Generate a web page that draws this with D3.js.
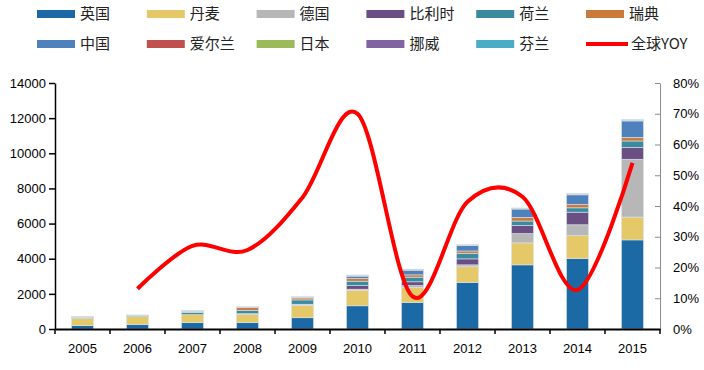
<!DOCTYPE html>
<html><head><meta charset="utf-8">
<script src="https://cdn.jsdelivr.net/npm/d3@7/dist/d3.min.js"></script>
<style>
body{margin:0;background:#fff;}
text{font-family:"Liberation Sans",Arial,sans-serif;}
</style></head>
<body><svg id="c" width="704" height="370"></svg>
<script>
const years = ["2005","2006","2007","2008","2009","2010","2011","2012","2013","2014","2015"];
const seriesNames = ["英国","丹麦","德国","比利时","荷兰","瑞典","中国","爱尔兰","日本","挪威","芬兰"];
const seriesColors = ["#1B6AA5","#E5C868","#B7B7B7","#6A4F85","#3A8BA0","#CA7B3C","#4F81BD","#C0504D","#9BBB59","#8064A2","#4BACC6"];
const UK = [190, 265, 360, 360, 640, 1320, 1510, 2650, 3650, 4010, 5070];
const DK = [415, 435, 455, 455, 700, 890, 850, 890, 1250, 1300, 1300];
const DE = [0, 0, 0, 55, 40, 55, 115, 110, 530, 620, 3290];
const BE = [0, 0, 0, 0, 30, 210, 210, 340, 470, 720, 680];
const NL = [30, 40, 130, 190, 245, 245, 265, 320, 245, 245, 360];
const SE = [20, 15, 30, 150, 110, 150, 130, 130, 210, 190, 210];
const CN = [0, 0, 15, 20, 30, 135, 265, 300, 470, 550, 930];
const IE = [25, 25, 25, 25, 25, 30, 20, 20, 25, 25, 30];
const JP = [5, 5, 5, 5, 5, 15, 15, 15, 15, 15, 15];
const NO = [0, 0, 5, 5, 5, 5, 5, 5, 5, 5, 5];
const FI = [15, 15, 15, 15, 15, 20, 20, 20, 20, 30, 20];
const globalYOY = [null, 0.131, 0.270, 0.257, 0.428, 0.700, 0.106, 0.414, 0.430, 0.127, 0.540];
const leftTicks = [0,2000,4000,6000,8000,10000,12000,14000];
const rightTicks = [0,0.1,0.2,0.3,0.4,0.5,0.6,0.7,0.8];
const seriesValues = [UK,DK,DE,BE,NL,SE,CN,IE,JP,NO,FI];

const svg = d3.select("#c");
const L = 55, R = 660, T = 83, B = 329;
const x = d3.scaleBand().domain(years).range([L, R]).paddingInner(0.6).paddingOuter(0.3);
const y = d3.scaleLinear().domain([0,14000]).range([B, T]);
const y2 = d3.scaleLinear().domain([0,0.8]).range([B, T]);

const table = years.map((yr,i)=>{const o={year:yr}; seriesNames.forEach((n,k)=>o[n]=seriesValues[k][i]); return o;});
const stack = d3.stack().keys(seriesNames)(table);

svg.append("g").selectAll("g").data(stack).join("g")
  .attr("fill",(d,i)=>seriesColors[i])
  .selectAll("rect").data(d=>d).join("rect")
  .attr("x",d=>x(d.data.year))
  .attr("width",x.bandwidth())
  .attr("y",d=>y(d[1]))
  .attr("height",d=>Math.max(0,y(d[0])-y(d[1])))
  .attr("stroke","#dde3ea").attr("stroke-width",0.6);

// left axis
const gl = svg.append("g").attr("transform",`translate(${L},0)`)
  .call(d3.axisLeft(y).tickValues(leftTicks).tickFormat(d3.format("d")).tickSize(6).tickPadding(3).tickSizeOuter(0));
gl.select(".domain").attr("stroke","#000").attr("stroke-width",1.5);
gl.selectAll(".tick line").attr("stroke","#000").attr("stroke-width",1.5);
gl.selectAll("text").attr("font-size",13).attr("fill","#000");

// right axis
const gr = svg.append("g").attr("transform",`translate(${R},0)`)
  .call(d3.axisRight(y2).tickValues(rightTicks).tickFormat(d3.format(".0%")).tickSizeInner(-5).tickSizeOuter(0).tickPadding(13));
gr.select(".domain").attr("stroke","#8c8c8c");
gr.selectAll(".tick line").attr("stroke","#8c8c8c");
gr.selectAll("text").attr("font-size",13).attr("fill","#000");

// bottom axis
const gb = svg.append("g").attr("transform",`translate(0,${B})`)
  .call(d3.axisBottom(x).tickSize(0).tickPadding(15));
gb.select(".domain").attr("stroke","#000").attr("stroke-width",2);
gb.selectAll("text").attr("font-size",13).attr("fill","#000");
const bounds = d3.range(years.length+1).map(i=>L + i*x.step());
gb.selectAll(".bt").data(bounds).join("line").attr("class","bt")
  .attr("x1",d=>d).attr("x2",d=>d).attr("y1",0).attr("y2",5)
  .attr("stroke","#000").attr("stroke-width",1.5);

// line
const line = d3.line().defined(d=>d.v!=null)
  .x(d=>x(d.year)+x.bandwidth()/2).y(d=>y2(d.v))
  .curve(d3.curveCardinal.tension(0));
svg.append("path").datum(years.map((yr,i)=>({year:yr,v:globalYOY[i]})).filter(d=>d.v!=null))
  .attr("d",line).attr("fill","none").attr("stroke","#ff0000").attr("stroke-width",4);

// legend
const legendItems = seriesNames.map((n,i)=>({name:n,color:seriesColors[i],type:"bar"}))
  .concat([{name:"全球YOY",color:"#ff0000",type:"line"}]);
const lg = svg.append("g").selectAll("g").data(legendItems).join("g")
  .attr("transform",(d,i)=>`translate(${37 + (i%6)*109.8},${i<6?14:44})`);
lg.each(function(d){
  const g=d3.select(this);
  if(d.type==="bar") g.append("rect").attr("x",0).attr("y",-4).attr("width",38).attr("height",8).attr("fill",d.color);
  else g.append("rect").attr("x",0).attr("y",-2).attr("width",42).attr("height",4).attr("fill",d.color);
});
lg.append("text").attr("x",d=>d.type==="bar"?43:45).attr("y",0).attr("dy","0.36em")
  .attr("font-size",15).attr("fill","#222")
  .style("font-family",'"Noto Sans CJK SC",sans-serif')
  .text(d=>d.name);
</script></body></html>
